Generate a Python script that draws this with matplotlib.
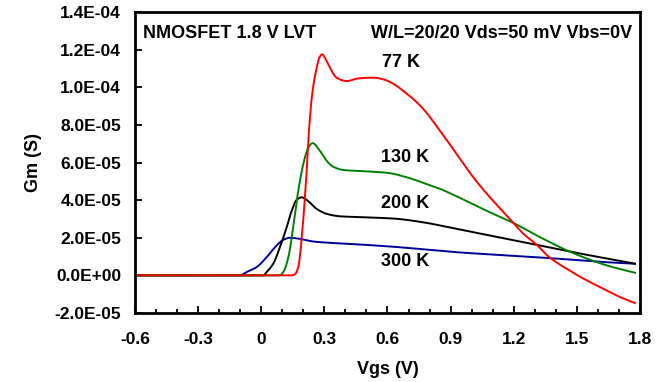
import matplotlib
matplotlib.use('Agg')
import numpy as np
import matplotlib.pyplot as plt
from matplotlib.ticker import MultipleLocator, FuncFormatter

# Gm vs Vgs readings for each temperature
vgs_77 = [-0.6, 0.14, 0.16, 0.176, 0.198, 0.215, 0.229, 0.244, 0.263, 0.277, 0.289, 0.311, 0.335,
          0.359, 0.406, 0.462, 0.533, 0.580, 0.644, 0.675, 0.720, 0.770, 0.850, 0.929,
          1.008, 1.087, 1.167, 1.198, 1.246, 1.301, 1.372, 1.452, 1.531, 1.626, 1.705, 1.776]
gm_77 = [0.0, 0.0, 0.6e-6, 4.4e-6, 2.74e-5, 5.4e-5, 8.04e-5, 9.8e-5, 1.10e-4, 1.16e-4, 1.175e-4,
         1.139e-4, 1.086e-4, 1.05e-4, 1.033e-4, 1.047e-4, 1.051e-4, 1.042e-4, 1.007e-4, 9.8e-5,
         9.4e-5, 8.85e-5, 7.68e-5, 6.45e-5, 5.21e-5, 4.15e-5, 3.18e-5, 2.79e-5, 2.21e-5,
         1.71e-5, 9.4e-6, 3.5e-6, -1.7e-6, -7.1e-6, -1.15e-5, -1.47e-5]

vgs_130 = [-0.6, 0.089, 0.105, 0.129, 0.152, 0.176, 0.200, 0.224, 0.244, 0.279, 0.311, 0.343, 0.390,
           0.501, 0.600, 0.690, 0.770, 0.850, 0.929, 1.087, 1.198, 1.325, 1.483, 1.642, 1.776]
gm_130 = [0.0, 0.0, 1.8e-6, 9.7e-6, 2.56e-5, 4.5e-5, 5.92e-5, 6.8e-5, 7.03e-5, 6.62e-5, 6.09e-5,
          5.77e-5, 5.6e-5, 5.53e-5, 5.45e-5, 5.22e-5, 4.92e-5, 4.6e-5, 4.2e-5, 3.35e-5, 2.79e-5,
          2.03e-5, 1.18e-5, 5.3e-6, 1.4e-6]

vgs_200 = [-0.6, 0.010, 0.026, 0.057, 0.089, 0.121, 0.145, 0.168, 0.192, 0.216, 0.264, 0.311, 0.374,
           0.485, 0.630, 0.770, 0.929, 1.087, 1.246, 1.404, 1.563, 1.721, 1.776]
gm_200 = [0.0, 0.0, 1.8e-6, 6.2e-6, 1.5e-5, 2.56e-5, 3.44e-5, 4.01e-5, 4.15e-5, 4.01e-5, 3.53e-5,
          3.27e-5, 3.14e-5, 3.09e-5, 3.02e-5, 2.82e-5, 2.47e-5, 2.12e-5, 1.77e-5, 1.41e-5, 1.06e-5,
          7.4e-6, 6.2e-6]

vgs_300 = [-0.6, -0.101, -0.069, -0.022, 0.026, 0.073, 0.105, 0.137, 0.184, 0.247, 0.327, 0.485,
           0.630, 0.929, 1.246, 1.483, 1.642, 1.776]
gm_300 = [0.0, 0.0, 1.8e-6, 4.4e-6, 9.7e-6, 1.59e-5, 1.89e-5, 2.0e-5, 1.94e-5, 1.8e-5, 1.73e-5,
          1.63e-5, 1.52e-5, 1.23e-5, 1.01e-5, 8.3e-6, 7.0e-6, 6.2e-6]

labels = ['77 K', '130 K', '200 K', '300 K']
label_pos = [(0.664, 1.13e-4), (0.683, 6.27e-5), (0.683, 3.8e-5), (0.683, 7.6e-6)]


def pchip(x, y, n=800):
    """monotone cubic through the read points, just for a smooth trace"""
    x = np.asarray(x, float)
    y = np.asarray(y, float)
    h = np.diff(x)
    d = np.diff(y) / h
    m = np.zeros_like(y)
    for k in range(1, len(x) - 1):
        if d[k - 1] * d[k] > 0:
            w1 = 2 * h[k] + h[k - 1]
            w2 = h[k] + 2 * h[k - 1]
            m[k] = (w1 + w2) / (w1 / d[k - 1] + w2 / d[k])
    m[0] = d[0]
    m[-1] = d[-1]
    xs = np.linspace(x[0], x[-1], n)
    idx = np.clip(np.searchsorted(x, xs) - 1, 0, len(h) - 1)
    t = (xs - x[idx]) / h[idx]
    h00 = 2 * t**3 - 3 * t**2 + 1
    h10 = t**3 - 2 * t**2 + t
    h01 = -2 * t**3 + 3 * t**2
    h11 = t**3 - t**2
    ys = h00 * y[idx] + h10 * h[idx] * m[idx] + h01 * y[idx + 1] + h11 * h[idx] * m[idx + 1]
    return xs, ys


plt.rcParams['font.family'] = ['Liberation Sans', 'DejaVu Sans']
plt.rcParams['font.weight'] = 'bold'

fig = plt.figure(figsize=(6.61, 3.82), dpi=100)
ax = fig.add_axes([0.2042, 0.1806, 0.7640, 0.7880])

ax.plot(*pchip(vgs_300, gm_300), color='#000099', lw=1.4)
ax.plot(*pchip(vgs_200, gm_200), color='black', lw=1.4)
ax.plot(*pchip(vgs_130, gm_130), color='#008000', lw=1.4)
ax.plot(*pchip(vgs_77, gm_77), color='#ff0000', lw=1.4)

for txt, (x, y) in zip(labels, label_pos):
    ax.text(x, y, txt, ha='center', va='center', fontsize=13, fontweight='bold')

ax.text(0.015, 0.93, 'NMOSFET 1.8 V LVT', transform=ax.transAxes, ha='left', va='center',
        fontsize=13, fontweight='bold')
ax.text(0.985, 0.93, 'W/L=20/20 Vds=50 mV Vbs=0V', transform=ax.transAxes, ha='right', va='center',
        fontsize=13, fontweight='bold')

ax.set_xlim(-0.6, 1.8)
ax.set_ylim(-2e-5, 1.4e-4)
ax.xaxis.set_major_locator(MultipleLocator(0.3))
ax.xaxis.set_minor_locator(MultipleLocator(0.1))
ax.yaxis.set_major_locator(MultipleLocator(2e-5))
ax.xaxis.set_major_formatter(FuncFormatter(lambda v, p: '0' if abs(v) < 1e-9 else f'{v:.1f}'))
ax.yaxis.set_major_formatter(FuncFormatter(lambda v, p: f'{v:.1E}'))

ax.tick_params(axis='both', which='major', direction='in', length=5, width=1.3, labelsize=12.5)
ax.tick_params(axis='both', which='minor', direction='in', length=3, width=1.3)
ax.tick_params(axis='x', pad=14)
ax.tick_params(axis='y', pad=10)
for lab in ax.get_xticklabels() + ax.get_yticklabels():
    lab.set_fontweight('bold')
for s in ax.spines.values():
    s.set_linewidth(2)

ax.set_xlabel('Vgs (V)', fontsize=13, fontweight='bold', labelpad=10)
fig.text(34 / 661, 0.575, 'Gm (S)', rotation=90, ha='center', va='center',
         fontsize=13, fontweight='bold')

fig.savefig('out.png', dpi=100)
